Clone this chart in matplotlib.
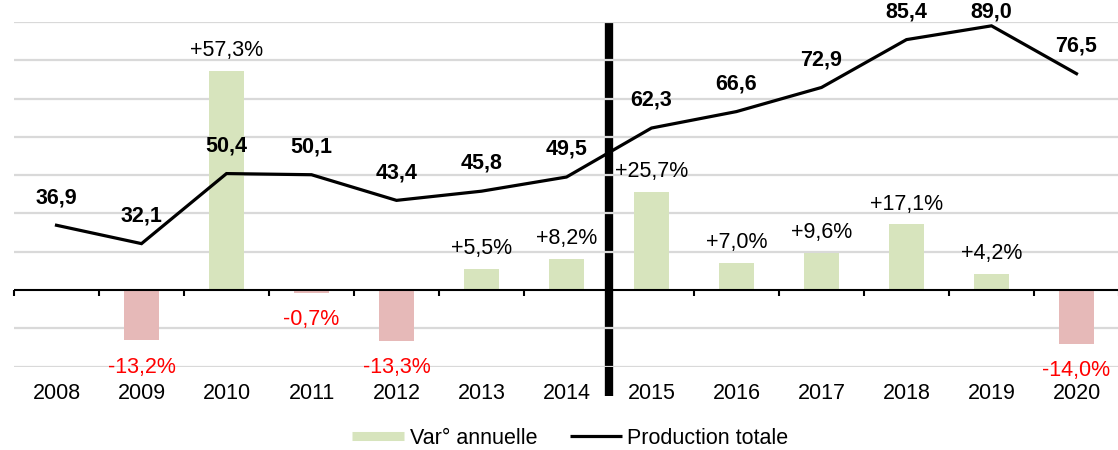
import numpy as np
import matplotlib
matplotlib.use("Agg")
import matplotlib.pyplot as plt
from matplotlib.lines import Line2D

# ---- data ----
years = ["2008", "2009", "2010", "2011", "2012", "2013", "2014",
         "2015", "2016", "2017", "2018", "2019", "2020"]
var_pct = [np.nan, -13.2, 57.3, -0.7, -13.3, 5.5, 8.2,
           25.7, 7.0, 9.6, 17.1, 4.2, -14.0]
production = [36.9, 32.1, 50.4, 50.1, 43.4, 45.8, 49.5,
              62.3, 66.6, 72.9, 85.4, 89.0, 76.5]
separator_before = "2015"
legend_labels = ["Var° annuelle", "Production totale"]

# ---- style ----
plt.rcParams['font.family'] = ['Liberation Sans', 'DejaVu Sans']
FS = 15.5
GREEN = "#D7E4BD"
RED = "#E6B9B8"
GRID = "#D9D9D9"

fig = plt.figure(figsize=(11.18, 4.5), dpi=100)
ax = fig.add_axes([14/1118, 1-366.5/450, 1105/1118, (366.5-22)/450])
ax2 = ax.twinx()

x = np.arange(len(years))
ax.set_xlim(-0.5, len(years) - 0.5)
ax.set_ylim(-20, 70)
ax2.set_ylim(0, 90)

for a in (ax, ax2):
    for s in a.spines.values():
        s.set_visible(False)
    a.set_yticks([])
ax2.set_xticks([])

# separator line (under gridlines)
sep_x = years.index(separator_before) - 0.5
ax.plot([sep_x, sep_x], [-27.6, 70], color="black", lw=6, zorder=1,
        clip_on=False, solid_capstyle="butt")

# gridlines
for g in range(-20, 71, 10):
    if g != 0:
        ax.axhline(g, color=GRID, lw=1.6, zorder=1.5)

# bars
vals = np.array(var_pct, dtype=float)
colors = [GREEN if (not np.isnan(v) and v >= 0) else RED for v in vals]
ax.bar(x, np.nan_to_num(vals), width=0.41, color=colors, zorder=2)

# zero line and boundary ticks
ax.axhline(0, color="black", lw=1.5, zorder=3)
bounds = np.arange(len(years) + 1) - 0.5
ax.vlines(bounds, 0, -1.6, color="black", lw=1.5, zorder=3, clip_on=False)

# bar labels
for xi, v in zip(x, vals):
    if np.isnan(v):
        continue
    txt = f"{v:+.1f}%".replace(".", ",")
    if v >= 0:
        ax.text(xi, v + 3.9, txt, ha="center", va="baseline", fontsize=FS,
                color="black", zorder=4)
    else:
        ax.text(xi, v - 8.4, txt, ha="center", va="baseline", fontsize=FS,
                color="#FF0000", zorder=4, clip_on=False)

# production line
ax2.plot(x, production, color="black", lw=2.3, zorder=5,
         solid_joinstyle="miter")
for xi, p in zip(x, production):
    ax2.text(xi, min(p + 5.8, 91.3), f"{p:.1f}".replace(".", ","),
             ha="center", va="baseline", fontsize=FS, fontweight="bold",
             color="black", zorder=6, clip_on=False)

# category labels
ax.set_xticks(x)
ax.set_xticklabels(years, fontsize=FS)
ax.tick_params(axis="x", length=0, pad=12)

# legend
handles = [Line2D([0], [0], color=GREEN, lw=6.5, solid_capstyle="butt"),
           Line2D([0], [0], color="black", lw=2.3, solid_capstyle="butt")]
fig.legend(handles, legend_labels, loc="center", ncol=2,
           bbox_to_anchor=(570.5/1118, 1-438/450), frameon=False,
           fontsize=FS, handlelength=2.4, handletextpad=0.25,
           columnspacing=1.55)

fig.savefig("out.png", dpi=100)
